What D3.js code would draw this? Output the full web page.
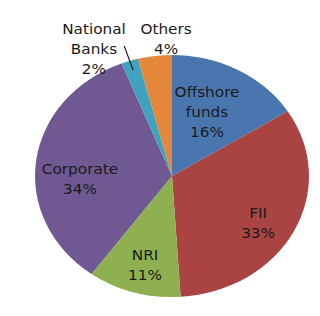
<!DOCTYPE html>
<html>
<head>
<meta charset="utf-8">
<script src="https://cdn.jsdelivr.net/npm/d3@7"></script>
<style>
  html, body { margin: 0; padding: 0; background: #fff; }
  svg { display: block; }
</style>
</head>
<body>
<svg id="chart" width="320" height="316"></svg>
<script>
// ---- data ----
const categories = ["Offshore funds", "FII", "NRI", "Corporate", "National Banks", "Others"];
const values = [16, 33, 11, 34, 2, 4];
const percentLabels = ["16%", "33%", "11%", "34%", "2%", "4%"];

// ---- style / layout ----
const colors = ["#4A76B0", "#A94442", "#8FB050", "#705892", "#40A3BE", "#E5873B"];
// label anchor in polar form: [radius factor, angle in degrees from 12 o'clock]
const labelLayout = [[0.588, 25.8], [0.739, 121.7], [0.762, 195.0], [0.672, 268.2], [1.194, 331.5], [1.133, 357.8]];
const leaderFor = 4; // National Banks uses a leader line

const W = 320, H = 316;
const cx = 172, cy = 176, R = 121, stretchX = 1.132;
const fontSize = 13.5, lineGap = 20;

const svg = d3.select("#chart");
const g = svg.append("g").attr("transform", `translate(${cx},${cy}) scale(${stretchX},1)`);

const data = categories.map((c, i) => ({ name: c, value: values[i], pct: percentLabels[i], i }));
const pie = d3.pie().value(d => d.value).sort(null);
const arc = d3.arc().innerRadius(0).outerRadius(R);
const arcs = pie(data);

g.selectAll("path.slice").data(arcs).join("path")
  .attr("class", "slice")
  .attr("d", arc)
  .attr("fill", d => colors[d.data.i]);

// leader line for small slice
const la = arcs[leaderFor];
const mid = (la.startAngle + la.endAngle) / 2;
const p1 = [Math.sin(mid) * R * 0.92, -Math.cos(mid) * R * 0.92];
const p2 = [Math.sin(mid) * R * 1.13, -Math.cos(mid) * R * 1.13];
g.append("line")
  .attr("x1", p1[0]).attr("y1", p1[1])
  .attr("x2", p2[0]).attr("y2", p2[1])
  .attr("stroke", "#111").attr("stroke-width", 1);

// labels
arcs.forEach((a, k) => {
  const [rf, deg] = labelLayout[k];
  const ang = deg * Math.PI / 180;
  const x = Math.sin(ang) * R * rf;
  const y = -Math.cos(ang) * R * rf;
  const words = a.data.name.split(" ");
  const lines = words.concat([a.data.pct]);
  const n = lines.length;
  const t = g.append("text")
    .attr("text-anchor", "middle")
    .attr("font-family", "DejaVu Sans, Verdana, sans-serif")
    .attr("font-size", fontSize)
    .attr("fill", "#1a1a1a");
  lines.forEach((ln, j) => {
    t.append("tspan")
      .attr("x", x)
      .attr("y", y + (j - (n - 1) / 2) * lineGap + 5)
      .text(ln);
  });
});
</script>
</body>
</html>
